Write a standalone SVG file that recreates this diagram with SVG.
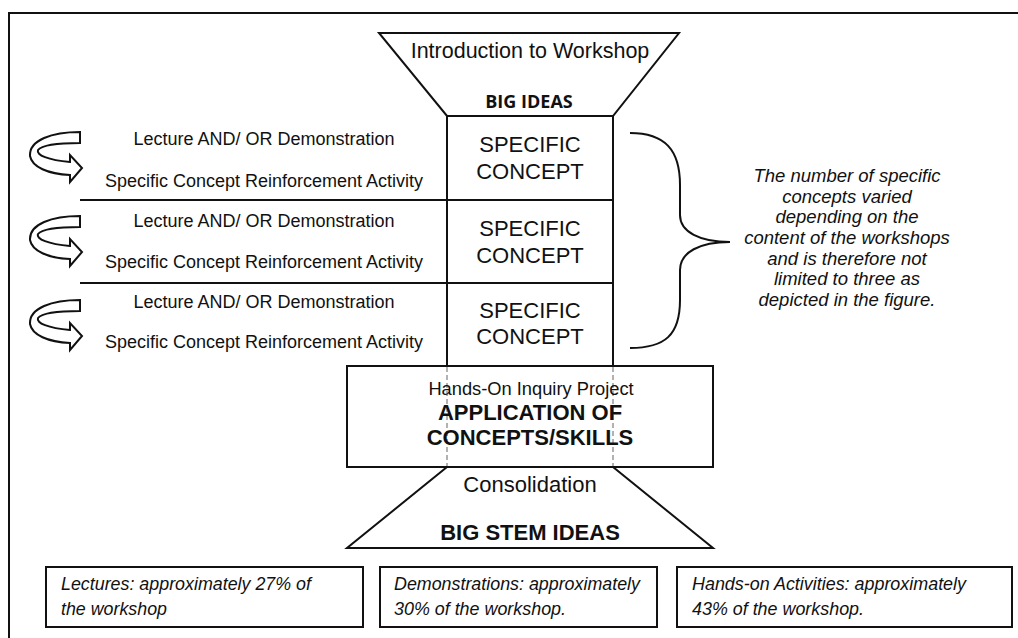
<svg xmlns="http://www.w3.org/2000/svg" width="1018" height="638" viewBox="0 0 1018 638">
<style>
.ln{fill:none;stroke:#111;stroke-width:2}
.box{fill:#fff;stroke:#111;stroke-width:2}
.t{font-family:"Liberation Sans",Arial,sans-serif;fill:#111}
.side{font-size:18px;text-anchor:middle}
.sc{font-size:22px;text-anchor:middle}
.note{font-size:18.5px;font-style:italic;text-anchor:middle}
.foot{font-size:19px;font-style:italic}
.dash{fill:none;stroke:#999;stroke-width:1.5;stroke-dasharray:5 3}
</style>
<defs>
<path id="uturn" d="M50,0 L50,11 C30,11 12,13 8,18 C6,23 18,28 40,30 L40,23 L52,36 L40,50 L40,43 C18,42 2,35 0,24 C-1,8 22,0 50,0 Z" fill="#fff" stroke="#111" stroke-width="2" stroke-linejoin="miter"/>
</defs>
<rect width="1018" height="638" fill="#fff"/>
<g id="frame">
<path class="ln" d="M9,638 L9,13 L1018,13" stroke-width="2.5"/>
</g>
<g id="connectors">
<line class="ln" x1="80" y1="200" x2="447" y2="200"/>
<line class="ln" x1="80" y1="283" x2="447" y2="283"/>
<path class="ln" d="M630,133 C665,133 680,150 680,185 L680,215 C680,232 700,242 730,242 C700,242 680,252 680,270 L680,300 C680,335 665,348 630,348"/>
</g>
<g id="intro">
<polygon class="box" points="379,33 679,33 613,116 447,116"/>
<text class="t" x="530" y="58" font-size="21.5" text-anchor="middle">Introduction to Workshop</text>
<text x="529" y="108" font-family="'Open Sans','Liberation Sans',sans-serif" font-weight="700" font-size="18" text-anchor="middle" fill="#111">BIG IDEAS</text>
</g>
<g id="concept1">
<rect class="box" x="447" y="116" width="166" height="84"/>
<text class="t sc" x="530" y="152">SPECIFIC</text>
<text class="t sc" x="530" y="179">CONCEPT</text>
</g>
<g id="concept2">
<rect class="box" x="447" y="200" width="166" height="83"/>
<text class="t sc" x="530" y="236">SPECIFIC</text>
<text class="t sc" x="530" y="263">CONCEPT</text>
</g>
<g id="concept3">
<rect class="box" x="447" y="283" width="166" height="83"/>
<text class="t sc" x="530" y="318">SPECIFIC</text>
<text class="t sc" x="530" y="344">CONCEPT</text>
</g>
<g id="activity1">
<use href="#uturn" x="30" y="132"/>
<text class="t side" x="264" y="145">Lecture AND/ OR Demonstration</text>
<text class="t side" x="264" y="187">Specific Concept Reinforcement Activity</text>
</g>
<g id="activity2">
<use href="#uturn" x="30" y="216"/>
<text class="t side" x="264" y="227">Lecture AND/ OR Demonstration</text>
<text class="t side" x="264" y="268">Specific Concept Reinforcement Activity</text>
</g>
<g id="activity3">
<use href="#uturn" x="30" y="300"/>
<text class="t side" x="264" y="308">Lecture AND/ OR Demonstration</text>
<text class="t side" x="264" y="348">Specific Concept Reinforcement Activity</text>
</g>
<g id="note">
<text class="t note" x="847" y="182">The number of specific</text>
<text class="t note" x="847" y="203">concepts varied</text>
<text class="t note" x="847" y="223">depending on the</text>
<text class="t note" x="847" y="244">content of the workshops</text>
<text class="t note" x="847" y="265">and is therefore not</text>
<text class="t note" x="847" y="285">limited to three as</text>
<text class="t note" x="847" y="306">depicted in the figure.</text>
</g>
<g id="application">
<rect class="box" x="347" y="366" width="366" height="101" fill="none"/>
<line class="dash" x1="447" y1="367" x2="447" y2="466"/>
<line class="dash" x1="613" y1="367" x2="613" y2="466"/>
<text class="t" x="531" y="395" font-size="18.3" text-anchor="middle">Hands-On Inquiry Project</text>
<text class="t" x="530" y="420" font-size="22" font-weight="700" text-anchor="middle">APPLICATION OF</text>
<text class="t" x="530" y="445" font-size="22" font-weight="700" text-anchor="middle">CONCEPTS/SKILLS</text>
</g>
<g id="consolidation">
<polygon class="box" points="447,467 613,467 713,548 347,548"/>
<text class="t" x="530" y="492" font-size="22" text-anchor="middle">Consolidation</text>
<text class="t" x="530" y="540" font-size="22" font-weight="700" text-anchor="middle">BIG STEM IDEAS</text>
</g>
<g id="lectures">
<rect class="box" x="46" y="567" width="317" height="60"/>
<text class="t foot" x="61" y="590" textLength="250" lengthAdjust="spacingAndGlyphs">Lectures: approximately 27% of</text>
<text class="t foot" x="61" y="615" textLength="106" lengthAdjust="spacingAndGlyphs">the workshop</text>
</g>
<g id="demonstrations">
<rect class="box" x="380" y="567" width="277" height="60"/>
<text class="t foot" x="394" y="590" textLength="246" lengthAdjust="spacingAndGlyphs">Demonstrations: approximately</text>
<text class="t foot" x="394" y="615" textLength="172" lengthAdjust="spacingAndGlyphs">30% of the workshop.</text>
</g>
<g id="handson">
<rect class="box" x="677" y="567" width="335" height="60"/>
<text class="t foot" x="692" y="590" textLength="274" lengthAdjust="spacingAndGlyphs">Hands-on Activities: approximately</text>
<text class="t foot" x="692" y="615" textLength="172" lengthAdjust="spacingAndGlyphs">43% of the workshop.</text>
</g>
</svg>
